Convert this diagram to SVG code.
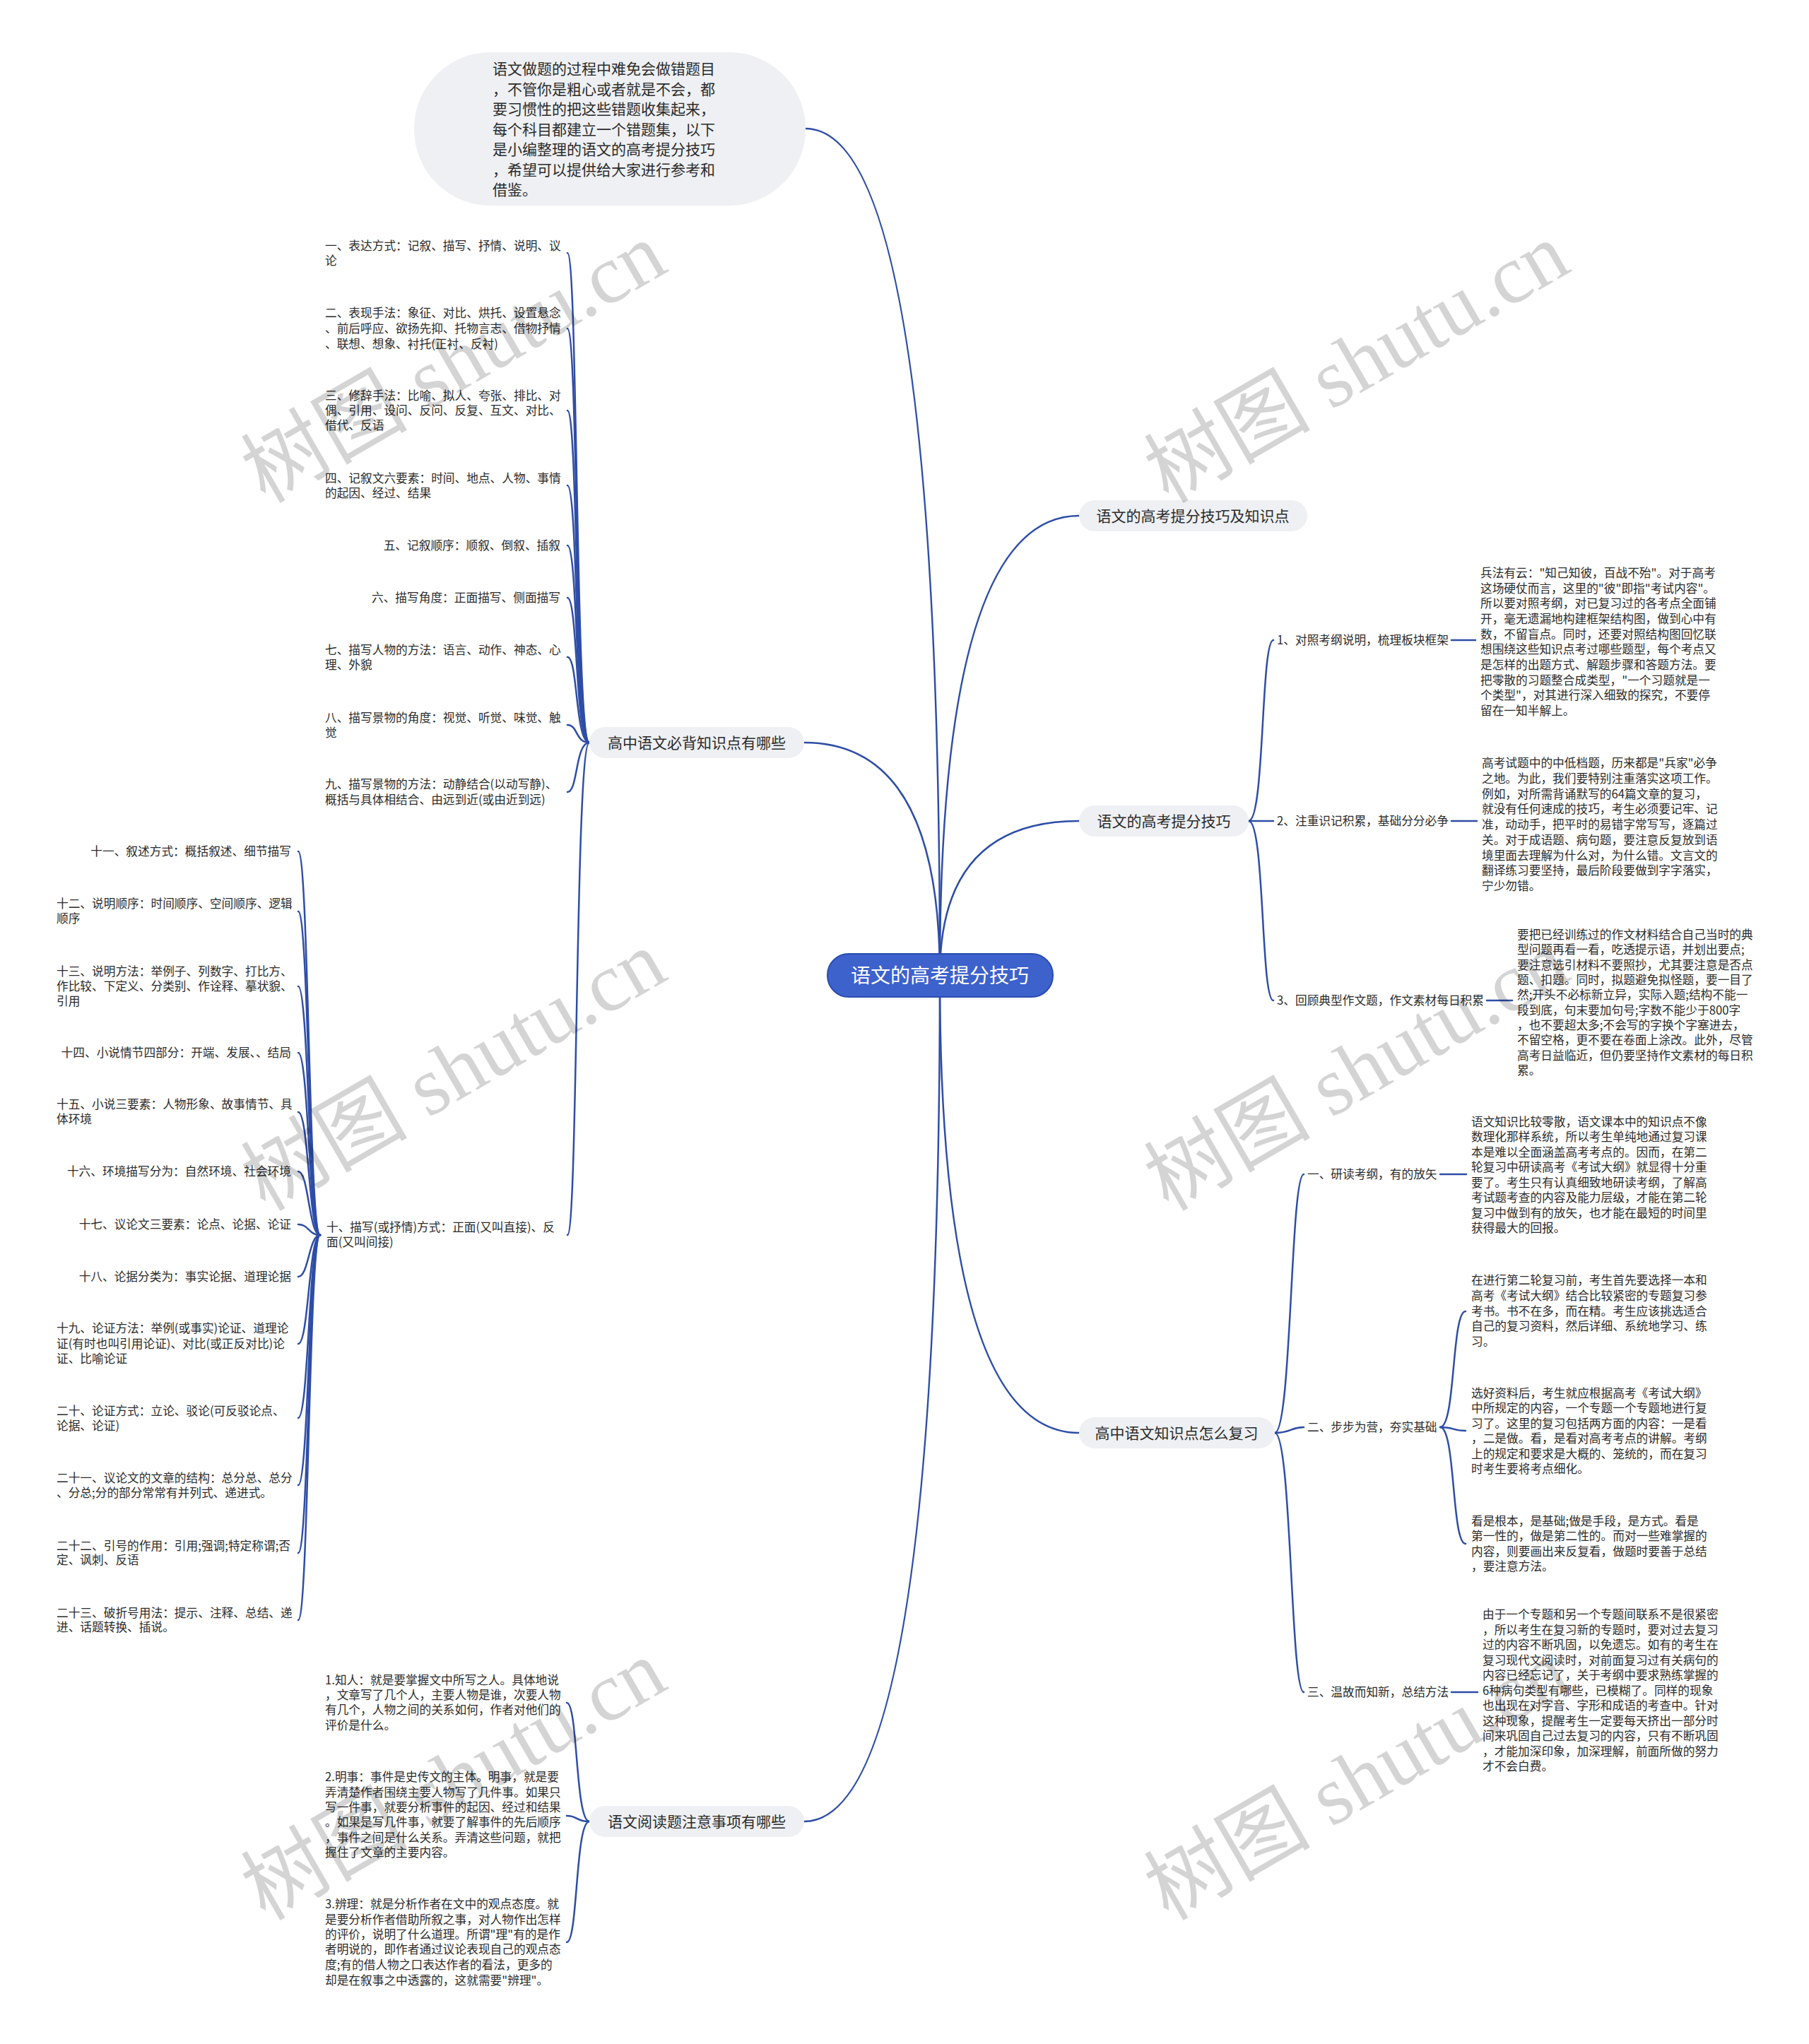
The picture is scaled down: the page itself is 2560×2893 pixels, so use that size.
<svg xmlns="http://www.w3.org/2000/svg" width="2560" height="2893" viewBox="0 0 2560 2893">
<style>
.t{font-family:"Noto Sans CJK SC","Noto Sans",sans-serif;fill:#2b2b2b}
.leaf{font-size:16.7px}
.lbl{font-size:16.7px}
.pt{font-size:21px;text-anchor:middle}
.pill{fill:#eef0f3}
.conn path{fill:none;stroke:#2e4da6;stroke-width:2.5;stroke-linecap:round}
.wm{font-family:"Liberation Serif","Noto Sans CJK SC",serif;font-size:118px;fill:#000;fill-opacity:0.17;text-anchor:middle}
</style>
<rect width="2560" height="2893" fill="#ffffff"/>
<g id="connectors" class="conn">
<path d="M1330 1380 Q1330 182 1140 182"/>
<path d="M1330 1380 Q1330 730 1527 730"/>
<path d="M1330 1380 Q1330 1162 1527 1162"/>
<path d="M1330 1380 Q1330 2028 1527 2028"/>
<path d="M1330 1380 Q1330 1051 1138 1051"/>
<path d="M1330 1380 Q1330 2578 1138 2578"/>
<path d="M1767 1162 C1790 1162 1784 906 1802 906"/>
<path d="M1767 1162 C1790 1162 1784 1162 1802 1162"/>
<path d="M1767 1162 C1790 1162 1784 1416 1802 1416"/>
<path d="M2054 906 L2088 906"/>
<path d="M2054 1162 L2090 1162"/>
<path d="M2104 1416 L2140 1416"/>
<path d="M1804 2028 C1828 2028 1826 1662 1845 1662"/>
<path d="M1804 2028 C1828 2028 1826 2020 1845 2020"/>
<path d="M1804 2028 C1828 2028 1826 2395 1845 2395"/>
<path d="M2038 1662 L2075 1662"/>
<path d="M2054 2395 L2091 2395"/>
<path d="M2038 2020 C2060 2020 2054 1856 2074 1856"/>
<path d="M2038 2020 C2060 2020 2054 2025 2074 2025"/>
<path d="M2038 2020 C2060 2020 2054 2185 2074 2185"/>
<path d="M834 1051 C814 1051 818 358 803 358"/>
<path d="M834 1051 C814 1051 818 465 803 465"/>
<path d="M834 1051 C814 1051 818 581 803 581"/>
<path d="M834 1051 C814 1051 818 687 803 687"/>
<path d="M834 1051 C814 1051 818 772 803 772"/>
<path d="M834 1051 C814 1051 818 846 803 846"/>
<path d="M834 1051 C814 1051 818 930 803 930"/>
<path d="M834 1051 C814 1051 818 1026 803 1026"/>
<path d="M834 1051 C814 1051 818 1121 803 1121"/>
<path d="M834 1051 C814 1051 818 1748 803 1748"/>
<path d="M453 1748 C437 1748 437 1205 422 1205"/>
<path d="M453 1748 C437 1748 437 1290 422 1290"/>
<path d="M453 1748 C437 1748 437 1396 422 1396"/>
<path d="M453 1748 C437 1748 437 1490 422 1490"/>
<path d="M453 1748 C437 1748 437 1574 422 1574"/>
<path d="M453 1748 C437 1748 437 1658 422 1658"/>
<path d="M453 1748 C437 1748 437 1733 422 1733"/>
<path d="M453 1748 C437 1748 437 1807 422 1807"/>
<path d="M453 1748 C437 1748 437 1902 422 1902"/>
<path d="M453 1748 C437 1748 437 2007 422 2007"/>
<path d="M453 1748 C437 1748 437 2102 422 2102"/>
<path d="M453 1748 C437 1748 437 2198 422 2198"/>
<path d="M453 1748 C437 1748 437 2293 422 2293"/>
<path d="M834 2578 C814 2578 818 2410 802 2410"/>
<path d="M834 2578 C814 2578 818 2570 802 2570"/>
<path d="M834 2578 C814 2578 818 2749 802 2749"/>
</g>
<g id="root">
<rect x="1171" y="1350" width="319" height="61" rx="30" fill="#3d62cc" stroke="#2c4cae" stroke-width="2"/>
<text class="t" x="1330" y="1391" font-size="28" text-anchor="middle" style="fill:#ffffff">语文的高考提分技巧</text>
</g>
<g id="intro">
<rect class="pill" x="586" y="74" width="554" height="217" rx="108"/>
<text class="t" font-size="21">
<tspan x="697" y="105">语文做题的过程中难免会做错题目</tspan>
<tspan x="697" y="134">，不管你是粗心或者就是不会，都</tspan>
<tspan x="697" y="162">要习惯性的把这些错题收集起来，</tspan>
<tspan x="697" y="191">每个科目都建立一个错题集，以下</tspan>
<tspan x="697" y="219">是小编整理的语文的高考提分技巧</tspan>
<tspan x="697" y="248">，希望可以提供给大家进行参考和</tspan>
<tspan x="697" y="276">借鉴。</tspan>
</text>
</g>
<g id="b1">
<rect class="pill" x="1527" y="708" width="323" height="44" rx="22"/>
<text class="t pt" x="1688" y="738">语文的高考提分技巧及知识点</text>
</g>
<g id="b2">
<rect class="pill" x="1527" y="1140" width="240" height="44" rx="22"/>
<text class="t pt" x="1647" y="1170">语文的高考提分技巧</text>
</g>
<g id="b3">
<rect class="pill" x="1527" y="2006" width="277" height="44" rx="22"/>
<text class="t pt" x="1665" y="2036">高中语文知识点怎么复习</text>
</g>
<g id="b4">
<rect class="pill" x="834" y="1029" width="304" height="44" rx="22"/>
<text class="t pt" x="986" y="1059">高中语文必背知识点有哪些</text>
</g>
<g id="b5">
<rect class="pill" x="834" y="2556" width="304" height="44" rx="22"/>
<text class="t pt" x="986" y="2586">语文阅读题注意事项有哪些</text>
</g>
<g id="b2-1"><text class="t lbl" x="1807" y="912">1、对照考纲说明，梳理板块框架</text></g>
<g id="b2-2"><text class="t lbl" x="1807" y="1168">2、注重识记积累，基础分分必争</text></g>
<g id="b2-3"><text class="t lbl" x="1807" y="1422">3、回顾典型作文题，作文素材每日积累</text></g>
<g id="b2-1-1"><text class="t leaf">
<tspan x="2095" y="817">兵法有云："知己知彼，百战不殆"。对于高考</tspan>
<tspan x="2095" y="839">这场硬仗而言，这里的"彼"即指"考试内容"。</tspan>
<tspan x="2095" y="860">所以要对照考纲，对已复习过的各考点全面铺</tspan>
<tspan x="2095" y="882">开，毫无遗漏地构建框架结构图，做到心中有</tspan>
<tspan x="2095" y="904">数，不留盲点。同时，还要对照结构图回忆联</tspan>
<tspan x="2095" y="925">想围绕这些知识点考过哪些题型，每个考点又</tspan>
<tspan x="2095" y="947">是怎样的出题方式、解题步骤和答题方法。要</tspan>
<tspan x="2095" y="969">把零散的习题整合成类型，"一个习题就是一</tspan>
<tspan x="2095" y="990">个类型"，对其进行深入细致的探究，不要停</tspan>
<tspan x="2095" y="1012">留在一知半解上。</tspan>
</text></g>
<g id="b2-2-1"><text class="t leaf">
<tspan x="2097" y="1086">高考试题中的中低档题，历来都是"兵家"必争</tspan>
<tspan x="2097" y="1108">之地。为此，我们要特别注重落实这项工作。</tspan>
<tspan x="2097" y="1130">例如，对所需背诵默写的64篇文章的复习，</tspan>
<tspan x="2097" y="1151">就没有任何速成的技巧，考生必须要记牢、记</tspan>
<tspan x="2097" y="1173">准，动动手，把平时的易错字常写写，逐篇过</tspan>
<tspan x="2097" y="1195">关。对于成语题、病句题，要注意反复放到语</tspan>
<tspan x="2097" y="1217">境里面去理解为什么对，为什么错。文言文的</tspan>
<tspan x="2097" y="1238">翻译练习要坚持，最后阶段要做到字字落实，</tspan>
<tspan x="2097" y="1260">宁少勿错。</tspan>
</text></g>
<g id="b2-3-1"><text class="t leaf">
<tspan x="2147" y="1329">要把已经训练过的作文材料结合自己当时的典</tspan>
<tspan x="2147" y="1350">型问题再看一看，吃透提示语，并划出要点;</tspan>
<tspan x="2147" y="1372">要注意选引材料不要照抄，尤其要注意是否点</tspan>
<tspan x="2147" y="1393">题、扣题。同时，拟题避免拟怪题，要一目了</tspan>
<tspan x="2147" y="1414">然;开头不必标新立异，实际入题;结构不能一</tspan>
<tspan x="2147" y="1436">段到底，句末要加句号;字数不能少于800字</tspan>
<tspan x="2147" y="1457">，也不要超太多;不会写的字换个字塞进去，</tspan>
<tspan x="2147" y="1478">不留空格，更不要在卷面上涂改。此外，尽管</tspan>
<tspan x="2147" y="1500">高考日益临近，但仍要坚持作文素材的每日积</tspan>
<tspan x="2147" y="1521">累。</tspan>
</text></g>
<g id="b3-1"><text class="t lbl" x="1850" y="1668">一、研读考纲，有的放矢</text></g>
<g id="b3-2"><text class="t lbl" x="1850" y="2026">二、步步为营，夯实基础</text></g>
<g id="b3-3"><text class="t lbl" x="1850" y="2401">三、温故而知新，总结方法</text></g>
<g id="b3-1-1"><text class="t leaf">
<tspan x="2082" y="1594">语文知识比较零散，语文课本中的知识点不像</tspan>
<tspan x="2082" y="1615">数理化那样系统，所以考生单纯地通过复习课</tspan>
<tspan x="2082" y="1637">本是难以全面涵盖高考考点的。因而，在第二</tspan>
<tspan x="2082" y="1658">轮复习中研读高考《考试大纲》就显得十分重</tspan>
<tspan x="2082" y="1680">要了。考生只有认真细致地研读考纲，了解高</tspan>
<tspan x="2082" y="1701">考试题考查的内容及能力层级，才能在第二轮</tspan>
<tspan x="2082" y="1723">复习中做到有的放矢，也才能在最短的时间里</tspan>
<tspan x="2082" y="1744">获得最大的回报。</tspan>
</text></g>
<g id="b3-2-1"><text class="t leaf">
<tspan x="2082" y="1818">在进行第二轮复习前，考生首先要选择一本和</tspan>
<tspan x="2082" y="1840">高考《考试大纲》结合比较紧密的专题复习参</tspan>
<tspan x="2082" y="1862">考书。书不在多，而在精。考生应该挑选适合</tspan>
<tspan x="2082" y="1883">自己的复习资料，然后详细、系统地学习、练</tspan>
<tspan x="2082" y="1905">习。</tspan>
</text></g>
<g id="b3-2-2"><text class="t leaf">
<tspan x="2082" y="1978">选好资料后，考生就应根据高考《考试大纲》</tspan>
<tspan x="2082" y="1999">中所规定的内容，一个专题一个专题地进行复</tspan>
<tspan x="2082" y="2021">习了。这里的复习包括两方面的内容：一是看</tspan>
<tspan x="2082" y="2042">，二是做。看，是看对高考考点的讲解。考纲</tspan>
<tspan x="2082" y="2064">上的规定和要求是大概的、笼统的，而在复习</tspan>
<tspan x="2082" y="2085">时考生要将考点细化。</tspan>
</text></g>
<g id="b3-2-3"><text class="t leaf">
<tspan x="2082" y="2159">看是根本，是基础;做是手段，是方式。看是</tspan>
<tspan x="2082" y="2180">第一性的，做是第二性的。而对一些难掌握的</tspan>
<tspan x="2082" y="2202">内容，则要画出来反复看，做题时要善于总结</tspan>
<tspan x="2082" y="2223">，要注意方法。</tspan>
</text></g>
<g id="b3-3-1"><text class="t leaf">
<tspan x="2098" y="2291">由于一个专题和另一个专题间联系不是很紧密</tspan>
<tspan x="2098" y="2313">，所以考生在复习新的专题时，要对过去复习</tspan>
<tspan x="2098" y="2334">过的内容不断巩固，以免遗忘。如有的考生在</tspan>
<tspan x="2098" y="2356">复习现代文阅读时，对前面复习过有关病句的</tspan>
<tspan x="2098" y="2377">内容已经忘记了，关于考纲中要求熟练掌握的</tspan>
<tspan x="2098" y="2399">6种病句类型有哪些，已模糊了。同样的现象</tspan>
<tspan x="2098" y="2420">也出现在对字音、字形和成语的考查中。针对</tspan>
<tspan x="2098" y="2442">这种现象，提醒考生一定要每天挤出一部分时</tspan>
<tspan x="2098" y="2463">间来巩固自己过去复习的内容，只有不断巩固</tspan>
<tspan x="2098" y="2485">，才能加深印象，加深理解，前面所做的努力</tspan>
<tspan x="2098" y="2506">才不会白费。</tspan>
</text></g>
<g id="b4-1"><text class="t leaf"><tspan x="460" y="354">一、表达方式：记叙、描写、抒情、说明、议</tspan><tspan x="460" y="375">论</tspan></text></g>
<g id="b4-2"><text class="t leaf"><tspan x="460" y="449">二、表现手法：象征、对比、烘托、设置悬念</tspan><tspan x="460" y="471">、前后呼应、欲扬先抑、托物言志、借物抒情</tspan><tspan x="460" y="493">、联想、想象、衬托(正衬、反衬)</tspan></text></g>
<g id="b4-3"><text class="t leaf"><tspan x="460" y="566">三、修辞手法：比喻、拟人、夸张、排比、对</tspan><tspan x="460" y="587">偶、引用、设问、反问、反复、互文、对比、</tspan><tspan x="460" y="608">借代、反语</tspan></text></g>
<g id="b4-4"><text class="t leaf"><tspan x="460" y="683">四、记叙文六要素：时间、地点、人物、事情</tspan><tspan x="460" y="704">的起因、经过、结果</tspan></text></g>
<g id="b4-5"><text class="t leaf" x="793" y="778" text-anchor="end">五、记叙顺序：顺叙、倒叙、插叙</text></g>
<g id="b4-6"><text class="t leaf" x="793" y="852" text-anchor="end">六、描写角度：正面描写、侧面描写</text></g>
<g id="b4-7"><text class="t leaf"><tspan x="460" y="926">七、描写人物的方法：语言、动作、神态、心</tspan><tspan x="460" y="947">理、外貌</tspan></text></g>
<g id="b4-8"><text class="t leaf"><tspan x="460" y="1022">八、描写景物的角度：视觉、听觉、味觉、触</tspan><tspan x="460" y="1043">觉</tspan></text></g>
<g id="b4-9"><text class="t leaf"><tspan x="460" y="1116">九、描写景物的方法：动静结合(以动写静)、</tspan><tspan x="460" y="1138">概括与具体相结合、由远到近(或由近到远)</tspan></text></g>
<g id="b4-10"><text class="t leaf"><tspan x="462" y="1743">十、描写(或抒情)方式：正面(又叫直接)、反</tspan><tspan x="462" y="1764">面(又叫间接)</tspan></text></g>
<g id="b4-10-1"><text class="t leaf" x="412" y="1211" text-anchor="end">十一、叙述方式：概括叙述、细节描写</text></g>
<g id="b4-10-2"><text class="t leaf"><tspan x="80" y="1285">十二、说明顺序：时间顺序、空间顺序、逻辑</tspan><tspan x="80" y="1306">顺序</tspan></text></g>
<g id="b4-10-3"><text class="t leaf"><tspan x="80" y="1381">十三、说明方法：举例子、列数字、打比方、</tspan><tspan x="80" y="1402">作比较、下定义、分类别、作诠释、摹状貌、</tspan><tspan x="80" y="1423">引用</tspan></text></g>
<g id="b4-10-4"><text class="t leaf" x="412" y="1496" text-anchor="end">十四、小说情节四部分：开端、发展、、结局</text></g>
<g id="b4-10-5"><text class="t leaf"><tspan x="80" y="1569">十五、小说三要素：人物形象、故事情节、具</tspan><tspan x="80" y="1590">体环境</tspan></text></g>
<g id="b4-10-6"><text class="t leaf" x="412" y="1664" text-anchor="end">十六、环境描写分为：自然环境、社会环境</text></g>
<g id="b4-10-7"><text class="t leaf" x="412" y="1739" text-anchor="end">十七、议论文三要素：论点、论据、论证</text></g>
<g id="b4-10-8"><text class="t leaf" x="412" y="1813" text-anchor="end">十八、论据分类为：事实论据、道理论据</text></g>
<g id="b4-10-9"><text class="t leaf"><tspan x="80" y="1886">十九、论证方法：举例(或事实)论证、道理论</tspan><tspan x="80" y="1908">证(有时也叫引用论证)、对比(或正反对比)论</tspan><tspan x="80" y="1929">证、比喻论证</tspan></text></g>
<g id="b4-10-10"><text class="t leaf"><tspan x="80" y="2003">二十、论证方式：立论、驳论(可反驳论点、</tspan><tspan x="80" y="2024">论据、论证)</tspan></text></g>
<g id="b4-10-11"><text class="t leaf"><tspan x="80" y="2098">二十一、议论文的文章的结构：总分总、总分</tspan><tspan x="80" y="2119">、分总;分的部分常常有并列式、递进式。</tspan></text></g>
<g id="b4-10-12"><text class="t leaf"><tspan x="80" y="2194">二十二、引号的作用：引用;强调;特定称谓;否</tspan><tspan x="80" y="2214">定、讽刺、反语</tspan></text></g>
<g id="b4-10-13"><text class="t leaf"><tspan x="80" y="2289">二十三、破折号用法：提示、注释、总结、递</tspan><tspan x="80" y="2309">进、话题转换、插说。</tspan></text></g>
<g id="b5-1"><text class="t leaf">
<tspan x="460" y="2384">1.知人：就是要掌握文中所写之人。具体地说</tspan>
<tspan x="460" y="2405">，文章写了几个人，主要人物是谁，次要人物</tspan>
<tspan x="460" y="2426">有几个，人物之间的关系如何，作者对他们的</tspan>
<tspan x="460" y="2448">评价是什么。</tspan>
</text></g>
<g id="b5-2"><text class="t leaf">
<tspan x="460" y="2521">2.明事：事件是史传文的主体。明事，就是要</tspan>
<tspan x="460" y="2543">弄清楚作者围绕主要人物写了几件事。如果只</tspan>
<tspan x="460" y="2564">写一件事，就要分析事件的起因、经过和结果</tspan>
<tspan x="460" y="2585">。如果是写几件事，就要了解事件的先后顺序</tspan>
<tspan x="460" y="2607">，事件之间是什么关系。弄清这些问题，就把</tspan>
<tspan x="460" y="2628">握住了文章的主要内容。</tspan>
</text></g>
<g id="b5-3"><text class="t leaf">
<tspan x="460" y="2701">3.辨理：就是分析作者在文中的观点态度。就</tspan>
<tspan x="460" y="2723">是要分析作者借助所叙之事，对人物作出怎样</tspan>
<tspan x="460" y="2744">的评价，说明了什么道理。所谓"理"有的是作</tspan>
<tspan x="460" y="2765">者明说的，即作者通过议论表现自己的观点态</tspan>
<tspan x="460" y="2787">度;有的借人物之口表达作者的看法，更多的</tspan>
<tspan x="460" y="2809">却是在叙事之中透露的，这就需要"辨理"。</tspan>
</text></g>
<g id="watermarks">
<text class="wm" transform="translate(662,548) rotate(-30)">树图 shutu.cn</text>
<text class="wm" transform="translate(1940,548) rotate(-30)">树图 shutu.cn</text>
<text class="wm" transform="translate(662,1550) rotate(-30)">树图 shutu.cn</text>
<text class="wm" transform="translate(1940,1550) rotate(-30)">树图 shutu.cn</text>
<text class="wm" transform="translate(662,2554) rotate(-30)">树图 shutu.cn</text>
<text class="wm" transform="translate(1940,2554) rotate(-30)">树图 shutu.cn</text>
</g>
</svg>
